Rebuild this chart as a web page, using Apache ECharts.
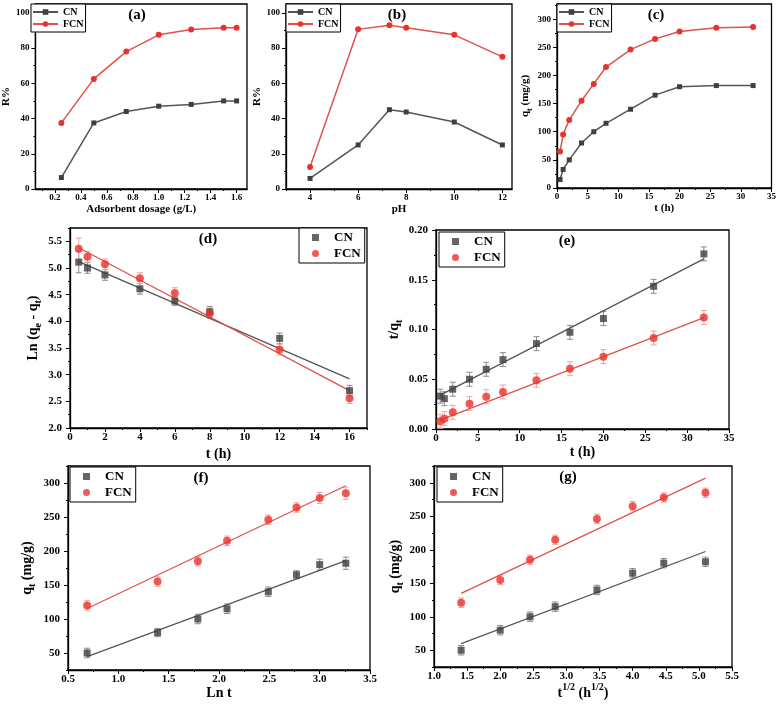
<!DOCTYPE html>
<html><head><meta charset="utf-8">
<script src="https://cdn.jsdelivr.net/npm/echarts@6/dist/echarts.min.js"></script>
<style>html,body{margin:0;padding:0;background:#fff}#c{width:779px;height:704px}</style>
</head><body><div id="c"></div>
<script>
// ---------------- DATA ----------------
// (a) effect of adsorbent dosage
const dosage = [0.25, 0.5, 0.75, 1.0, 1.25, 1.5, 1.6];
const dosageCN = [6.5, 37.5, 44, 47, 48, 50, 50];
const dosageFCN = [37.5, 62.5, 78, 87.5, 90.5, 91.5, 91.5];
// (b) effect of pH
const pHs = [4, 6, 7.3, 8, 10, 12];
const pHCN = [6, 25, 45, 43.7, 38, 25];
const pHFCN = [12.5, 90.6, 93, 91.5, 87.5, 75];
// (c) contact time
const times = [0.5, 1, 2, 4, 6, 8, 12, 16, 20, 26, 32];
const qtCN = [15, 33, 50, 80, 100, 115, 140, 165, 180, 182, 182];
const qtFCN = [65, 95, 121, 155, 185, 215, 246, 265, 278, 285, 286];
// (d) pseudo-first-order
const tPFO = [0.5, 1, 2, 4, 6, 8, 12, 16];
const pfoCN = [5.11, 5.0, 4.87, 4.61, 4.38, 4.18, 3.68, 2.70];
const pfoFCN = [5.36, 5.21, 5.07, 4.81, 4.53, 4.15, 3.47, 2.56];
const pfoErrCN = [0.2, 0.1, 0.1, 0.1, 0.08, 0.1, 0.1, 0.1];
const pfoErrFCN = [0.2, 0.1, 0.1, 0.1, 0.1, 0.1, 0.1, 0.1];
const pfoFitT = [0.5, 16];
const pfoFitCN = [5.12, 2.92];
const pfoFitFCN = [5.38, 2.70];
// (e) pseudo-second-order
const psoCN = [0.033, 0.0305, 0.040, 0.050, 0.060, 0.0697, 0.0858, 0.0972, 0.111, 0.1434, 0.176];
const psoFCN = [0.0077, 0.0104, 0.0168, 0.0255, 0.0325, 0.0372, 0.0489, 0.0606, 0.0727, 0.0915, 0.112];
const psoErrCN = [0.007, 0.007, 0.007, 0.007, 0.007, 0.007, 0.007, 0.007, 0.007, 0.007, 0.007];
const psoErrFCN = [0.007, 0.007, 0.007, 0.007, 0.007, 0.007, 0.007, 0.007, 0.007, 0.007, 0.007];
const psoFitT = [0.5, 32];
const psoFitCN = [0.034, 0.171];
const psoFitFCN = [0.009, 0.112];
// (f) Elovich
const lnT = [0.69, 1.39, 1.79, 2.08, 2.49, 2.77, 3.0, 3.26];
const elCN = [50, 80, 100, 115, 140, 165, 180, 182];
const elFCN = [120, 155, 185, 215, 246, 264, 278, 285];
const elErrCN = [7, 6, 7, 7, 7, 6, 8, 9];
const elErrFCN = [7, 7, 7, 7, 7, 7, 8, 9];
const elFitX = [0.69, 3.26];
const elFitCN = [44.6, 186];
const elFitFCN = [115.4, 296];
// (g) intraparticle diffusion
const sqrtT = [1.41, 2.0, 2.45, 2.83, 3.46, 4.0, 4.47, 5.1];
const ipdCN = [50, 80, 100, 115, 140, 165, 180, 182];
const ipdFCN = [121, 155, 185, 215, 246, 265, 278, 285];
const ipdErrCN = [7, 7, 7, 7, 7, 7, 7, 7];
const ipdErrFCN = [7, 7, 7, 7, 7, 7, 7, 7];
const ipdFitX = [1.41, 5.1];
const ipdFitCN = [59.9, 197.4];
const ipdFitFCN = [134.8, 307];
// tick labels
const ticksAx = [0.2, 0.4, 0.6, 0.8, 1.0, 1.2, 1.4, 1.6];
const ticksRy = [0, 20, 40, 60, 80, 100];
const ticksBx = [4, 6, 8, 10, 12];
const ticksTx = [0, 5, 10, 15, 20, 25, 30, 35];
const ticksCy = [0, 50, 100, 150, 200, 250, 300];
const ticksDx = [0, 2, 4, 6, 8, 10, 12, 14, 16];
const ticksDy = [2.0, 2.5, 3.0, 3.5, 4.0, 4.5, 5.0, 5.5];
const ticksEy = [0, 0.05, 0.10, 0.15, 0.20];
const ticksFx = [0.5, 1.0, 1.5, 2.0, 2.5, 3.0, 3.5];
const ticksQy = [50, 100, 150, 200, 250, 300];
const ticksGx = [1.0, 1.5, 2.0, 2.5, 3.0, 3.5, 4.0, 4.5, 5.0, 5.5];

// ---------------- STYLE ----------------
const SERIF = 'Liberation Serif';
const CN_C = '#3f3f3f', CN_L = '#555555', FCN_C = '#e8322c', FCN_L = '#e0524c';
const CN_E = '#8a8a8a', FCN_E = '#efa3a0';

const grids = [
  {left: 31, top: 4, width: 216, height: 185},
  {left: 286, top: 4, width: 226, height: 185},
  {left: 557, top: 4, width: 219, height: 184},
  {left: 70, top: 228, width: 297, height: 200},
  {left: 436, top: 230, width: 293, height: 199},
  {left: 68, top: 466, width: 302, height: 204},
  {left: 434, top: 466, width: 298, height: 201}
].map(g => Object.assign(g, {show: true, borderColor: '#000', borderWidth: 1.3, backgroundColor: 'transparent'}));

const qtName = '{n|q}{s|t}{n| (mg/g)}';
const panels = [
  {x: {min: 0.05, max: 1.68, ticks: ticksAx, dec: 1, name: 'Adsorbent dosage (g/L)', gap: 15},
   y: {min: 0, max: 105, ticks: ticksRy, dec: 0, name: 'R%', gap: 17}, fs: 9, nfs: 11},
  {x: {min: 3, max: 12.4, ticks: ticksBx, dec: 0, name: 'pH', gap: 15},
   y: {min: 0, max: 105, ticks: ticksRy, dec: 0, name: 'R%', gap: 17}, fs: 9, nfs: 11},
  {x: {min: 0, max: 35, ticks: ticksTx, dec: 0, name: 't (h)', gap: 15},
   y: {min: 0, max: 327, ticks: ticksCy, dec: 0, name: qtName, gap: 17, rich: true}, fs: 9, nfs: 11},
  {x: {min: 0, max: 17, ticks: ticksDx, dec: 0, name: 't (h)', gap: 19},
   y: {min: 2, max: 5.75, ticks: ticksDy, dec: 1, name: '{n|Ln (q}{s|e}{n| - q}{s|t}{n|)}', gap: 27, rich: true}, fs: 11, nfs: 14},
  {x: {min: 0, max: 35, ticks: ticksTx, dec: 0, name: 't (h)', gap: 16},
   y: {min: 0, max: 0.2, ticks: ticksEy, dec: 2, name: '{n|t/q}{s|t}', gap: 30, rich: true}, fs: 11, nfs: 14},
  {x: {min: 0.5, max: 3.5, ticks: ticksFx, dec: 1, name: 'Ln t', gap: 16},
   y: {min: 25, max: 325, ticks: ticksQy, dec: 0, name: qtName, gap: 31, rich: true}, fs: 11, nfs: 14},
  {x: {min: 1.0, max: 5.5, ticks: ticksGx, dec: 1, name: '{n|t}{p|1/2}{n| (h}{p|1/2}{n|)}', gap: 14, rich: true},
   y: {min: 25, max: 325, ticks: ticksQy, dec: 0, name: qtName, gap: 27, rich: true}, fs: 11, nfs: 14}
];

function minorsOf(ticks, min, max) {
  const out = [];
  const step = ticks[1] - ticks[0];
  const first = ticks[0] - step / 2;
  for (let v = first; v <= max + 1e-9; v += step) {
    if (v >= min - 1e-9) out.push(+v.toFixed(6));
  }
  return out.filter(v => !ticks.some(t => Math.abs(t - v) < 1e-9));
}

function richFor(nfs) {
  return {
    n: {fontFamily: SERIF, fontWeight: 'bold', fontSize: nfs, color: '#000', lineHeight: nfs + 6},
    s: {fontFamily: SERIF, fontWeight: 'bold', fontSize: Math.round(nfs * 0.7), color: '#000', lineHeight: Math.round(nfs * 0.7), verticalAlign: 'bottom'},
    p: {fontFamily: SERIF, fontWeight: 'bold', fontSize: Math.round(nfs * 0.7), color: '#000', lineHeight: Math.round(nfs * 0.7), verticalAlign: 'top'}
  };
}

function makeAxes(dim, gi, spec, fs, nfs) {
  const main = {
    type: 'value', gridIndex: gi, min: spec.min, max: spec.max,
    position: dim === 'x' ? 'bottom' : 'left',
    axisLine: {show: true, onZero: false, lineStyle: {color: '#000', width: 1.3}},
    axisTick: {show: true, inside: false, length: 4, customValues: spec.ticks, lineStyle: {color: '#000', width: 1}},
    axisLabel: {customValues: spec.ticks, formatter: v => (+v).toFixed(spec.dec), fontFamily: SERIF, fontWeight: 'bold',
      fontSize: fs, color: '#000', margin: dim === 'x' ? 4 : (fs > 10 ? 8 : 6), hideOverlap: false},
    splitLine: {show: false},
    name: spec.name, nameLocation: 'middle', nameGap: spec.gap,
    nameTextStyle: {fontFamily: SERIF, fontWeight: 'bold', fontSize: nfs, color: '#000', rich: spec.rich ? richFor(nfs) : undefined}
  };
  if (dim === 'y') main.nameRotate = 90;
  const minor = {
    type: 'value', gridIndex: gi, min: spec.min, max: spec.max,
    position: dim === 'x' ? 'bottom' : 'left', offset: 0,
    axisLine: {show: false},
    axisTick: {show: true, inside: false, length: 2, customValues: minorsOf(spec.ticks, spec.min, spec.max), lineStyle: {color: '#000', width: 1}},
    axisLabel: {show: false},
    splitLine: {show: false}
  };
  return [main, minor];
}

const xAxis = [], yAxis = [];
panels.forEach((p, gi) => {
  xAxis.push(...makeAxes('x', gi, p.x, p.fs, p.nfs));
  yAxis.push(...makeAxes('y', gi, p.y, p.fs, p.nfs));
});

const pairs = (xs, ys) => xs.map((x, i) => [x, ys[i]]);
const errs = (xs, ys, es) => xs.map((x, i) => [x, ys[i] - es[i], ys[i] + es[i]]);

function errRender(params, api) {
  const x = api.value(0), lo = api.value(1), hi = api.value(2);
  const p1 = api.coord([x, hi]), p2 = api.coord([x, lo]);
  const w = 3;
  const style = {stroke: api.visual('color'), lineWidth: 1};
  return {type: 'group', children: [
    {type: 'line', shape: {x1: p1[0], y1: p1[1], x2: p2[0], y2: p2[1]}, style},
    {type: 'line', shape: {x1: p1[0] - w, y1: p1[1], x2: p1[0] + w, y2: p1[1]}, style},
    {type: 'line', shape: {x1: p2[0] - w, y1: p2[1], x2: p2[0] + w, y2: p2[1]}, style}
  ]};
}

const series = [];
const tag = ['a', 'b', 'c', 'd', 'e', 'f', 'g'];
function lineSeries(gi, name, data, isCN) {
  series.push({
    type: 'line', name: name + '#' + tag[gi], xAxisIndex: gi * 2, yAxisIndex: gi * 2, data,
    symbol: isCN ? 'rect' : 'circle', symbolSize: isCN ? 5 : 6, showSymbol: true,
    itemStyle: {color: isCN ? CN_C : FCN_C},
    lineStyle: {color: isCN ? CN_L : FCN_L, width: 1.5}, z: isCN ? 3 : 4
  });
}
lineSeries(0, 'CN', pairs(dosage, dosageCN), true);
lineSeries(0, 'FCN', pairs(dosage, dosageFCN), false);
lineSeries(1, 'CN', pairs(pHs, pHCN), true);
lineSeries(1, 'FCN', pairs(pHs, pHFCN), false);
lineSeries(2, 'CN', pairs(times, qtCN), true);
lineSeries(2, 'FCN', pairs(times, qtFCN), false);

function fitPanel(gi, xs, cn, fcn, ecn, efcn, fx, fcnFit, ffcnFit) {
  const ax = {xAxisIndex: gi * 2, yAxisIndex: gi * 2};
  series.push(Object.assign({type: 'custom', name: 'errCN' + gi, renderItem: errRender, data: errs(xs, cn, ecn),
    encode: {x: 0, y: [1, 2]}, itemStyle: {color: CN_E}, z: 1, silent: true}, ax));
  series.push(Object.assign({type: 'custom', name: 'errFCN' + gi, renderItem: errRender, data: errs(xs, fcn, efcn),
    encode: {x: 0, y: [1, 2]}, itemStyle: {color: FCN_E}, z: 1, silent: true}, ax));
  series.push(Object.assign({type: 'line', name: 'fitCN' + gi, data: pairs(fx, fcnFit), showSymbol: false, symbol: 'none',
    lineStyle: {color: CN_L, width: 1.3}, z: 2, silent: true}, ax));
  series.push(Object.assign({type: 'line', name: 'fitFCN' + gi, data: pairs(fx, ffcnFit), showSymbol: false, symbol: 'none',
    lineStyle: {color: FCN_L, width: 1.3}, z: 2, silent: true}, ax));
  series.push(Object.assign({type: 'scatter', name: 'CN#' + tag[gi], data: pairs(xs, cn), symbol: 'rect', symbolSize: 7,
    itemStyle: {color: CN_C}, z: 3}, ax));
  series.push(Object.assign({type: 'scatter', name: 'FCN#' + tag[gi], data: pairs(xs, fcn), symbol: 'circle', symbolSize: 8,
    itemStyle: {color: FCN_C}, z: 4}, ax));
}
fitPanel(3, tPFO, pfoCN, pfoFCN, pfoErrCN, pfoErrFCN, pfoFitT, pfoFitCN, pfoFitFCN);
fitPanel(4, times, psoCN, psoFCN, psoErrCN, psoErrFCN, psoFitT, psoFitCN, psoFitFCN);
fitPanel(5, lnT, elCN, elFCN, elErrCN, elErrFCN, elFitX, elFitCN, elFitFCN);
fitPanel(6, sqrtT, ipdCN, ipdFCN, ipdErrCN, ipdErrFCN, ipdFitX, ipdFitCN, ipdFitFCN);

const legendPos = [
  {left: 31, top: 4}, {left: 286, top: 4}, {left: 557, top: 4},
  {left: 299, top: 228}, {left: 439, top: 232}, {left: 70, top: 467}, {left: 437, top: 467}
];
const legend = legendPos.map((pos, gi) => {
  const big = gi >= 3;
  const base = {
    orient: 'vertical', borderColor: '#000', borderWidth: 1, backgroundColor: '#fff',
    formatter: n => n.split('#')[0], selectedMode: false
  };
  if (big) {
    return Object.assign(base, {
      data: [{name: 'CN#' + tag[gi], icon: 'rect'}, {name: 'FCN#' + tag[gi], icon: 'circle'}],
      itemGap: 3, padding: [3, 4, 3, 13], itemWidth: 7, itemHeight: 7,
      textStyle: {fontFamily: SERIF, fontWeight: 'bold', fontSize: 13, color: '#000', padding: [0, 0, 0, 10]}
    }, pos);
  }
  return Object.assign(base, {
    data: ['CN#' + tag[gi], 'FCN#' + tag[gi]],
    itemGap: 2, padding: [3, 2, 3, 1], itemWidth: 25, itemHeight: 7,
    textStyle: {fontFamily: SERIF, fontWeight: 'bold', fontSize: 10, color: '#000'}
  }, pos);
});

const titles = [['(a)', 137, 15], ['(b)', 397, 15], ['(c)', 656, 15], ['(d)', 208, 239],
  ['(e)', 567, 241], ['(f)', 201, 478], ['(g)', 568, 477]];
const graphic = titles.map(t => ({
  type: 'text', x: t[1], y: t[2], z: 100,
  style: {text: t[0], fontFamily: SERIF, fontWeight: 'bold', fontSize: 15, fill: '#000',
    textAlign: 'center', textVerticalAlign: 'middle'}
}));

const chart = echarts.init(document.getElementById('c'), null, {renderer: 'canvas'});
chart.setOption({
  animation: false,
  backgroundColor: '#fff',
  grid: grids, xAxis, yAxis, series, legend, graphic
});
</script></body></html>
